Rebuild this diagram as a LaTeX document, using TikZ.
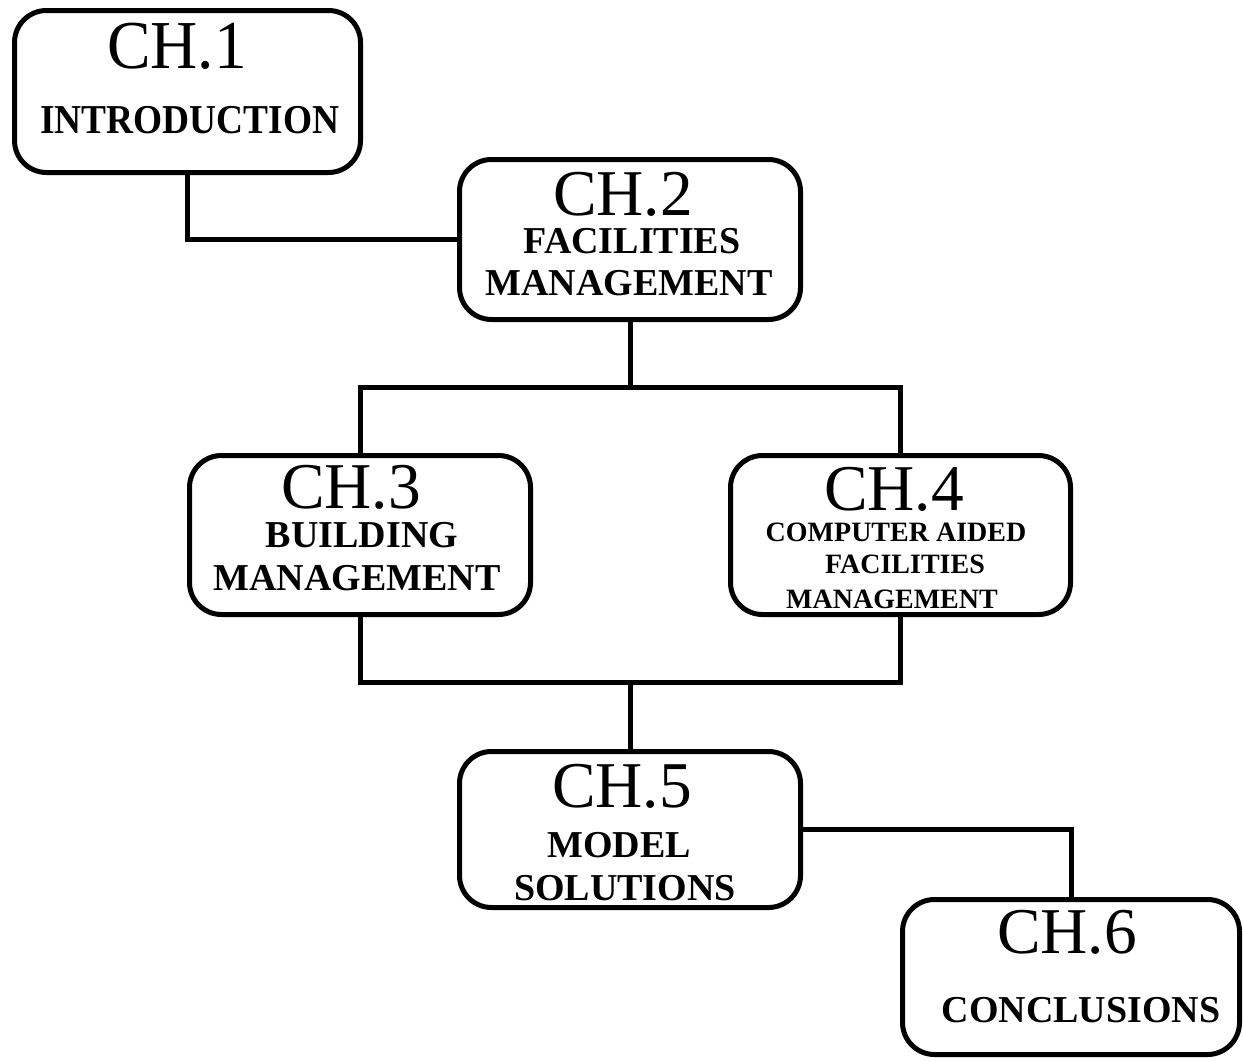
\documentclass[tikz,border=0pt]{standalone}
\usepackage{fontspec}
\setmainfont{Liberation Serif}
\begin{document}
\begin{tikzpicture}[x=0.75pt,y=-0.75pt,
  chbox/.style={draw=black,line width=3.75pt,rounded corners=24pt,fill=none,inner sep=0pt},
  conn/.style={draw=black,line width=3.75pt,line cap=rect},
  chtitle/.style={anchor=base,inner sep=0pt,font=\fontsize{49}{49}\selectfont},
  chname/.style={anchor=base,inner sep=0pt,font=\fontsize{28.5}{28.5}\selectfont\bfseries},
  chsmall/.style={anchor=base,inner sep=0pt,font=\fontsize{21}{21}\selectfont\bfseries}]
\path[use as bounding box] (0,0) rectangle (1243,1061);
% boxes
\node[chbox,minimum width=346*0.75pt,minimum height=162*0.75pt] (b1) at (187.5,91.5) {};
\node[chbox,minimum width=341*0.75pt,minimum height=160*0.75pt] (b2) at (630,239.5) {};
\node[chbox,minimum width=341*0.75pt,minimum height=159*0.75pt] (b3) at (360,535) {};
\node[chbox,minimum width=340*0.75pt,minimum height=159*0.75pt] (b4) at (900.5,535) {};
\node[chbox,minimum width=341*0.75pt,minimum height=156*0.75pt] (b5) at (630,829.5) {};
\node[chbox,minimum width=337*0.75pt,minimum height=155*0.75pt] (b6) at (1071,977) {};
% texts
\node[chtitle] (t1a) at (177,68) {\scalebox{1}[1.05]{CH.1}};
\node[chname,font=\fontsize{27.5}{27.5}\selectfont\bfseries] (t1b) at (190,133) {\scalebox{1.02}[1.12]{INTRODUCTION}};
\node[chtitle] (t2a) at (623,215) {CH.2};
\node[chname] (t2b) at (632,253) {FACILITIES};
\node[chname] (t2c) at (629,295) {MANAGEMENT};
\node[chtitle] (t3a) at (351,508) {CH.3};
\node[chname] (t3b) at (362,547) {BUILDING};
\node[chname] (t3c) at (357,590) {MANAGEMENT};
\node[chtitle] (t4a) at (894,510) {CH.4};
\node[chsmall] (t4b) at (896,541) {COMPUTER AIDED};
\node[chsmall] (t4c) at (905,573) {FACILITIES};
\node[chsmall] (t4d) at (892,608) {MANAGEMENT};
\node[chtitle] (t5a) at (622,807) {CH.5};
\node[chname] (t5b) at (619,857) {MODEL};
\node[chname] (t5c) at (625,900) {SOLUTIONS};
\node[chtitle] (t6a) at (1067,953) {CH.6};
\node[chname] (t6b) at (1081,1022) {CONCLUSIONS};
% junctions
\coordinate (j1) at (630,387);
\coordinate (j2) at (630,682);
% connectors
\draw[conn] (b1.south) |- (b2.west);
\draw[conn] (b2.south) -- (j1);
\draw[conn] (b3.north) |- (j1) -| (b4.north);
\draw[conn] (b3.south) |- (j2) -| (b4.south);
\draw[conn] (j2) -- (b5.north);
\draw[conn] (b5.east) -| (b6.north);
\end{tikzpicture}
\end{document}
